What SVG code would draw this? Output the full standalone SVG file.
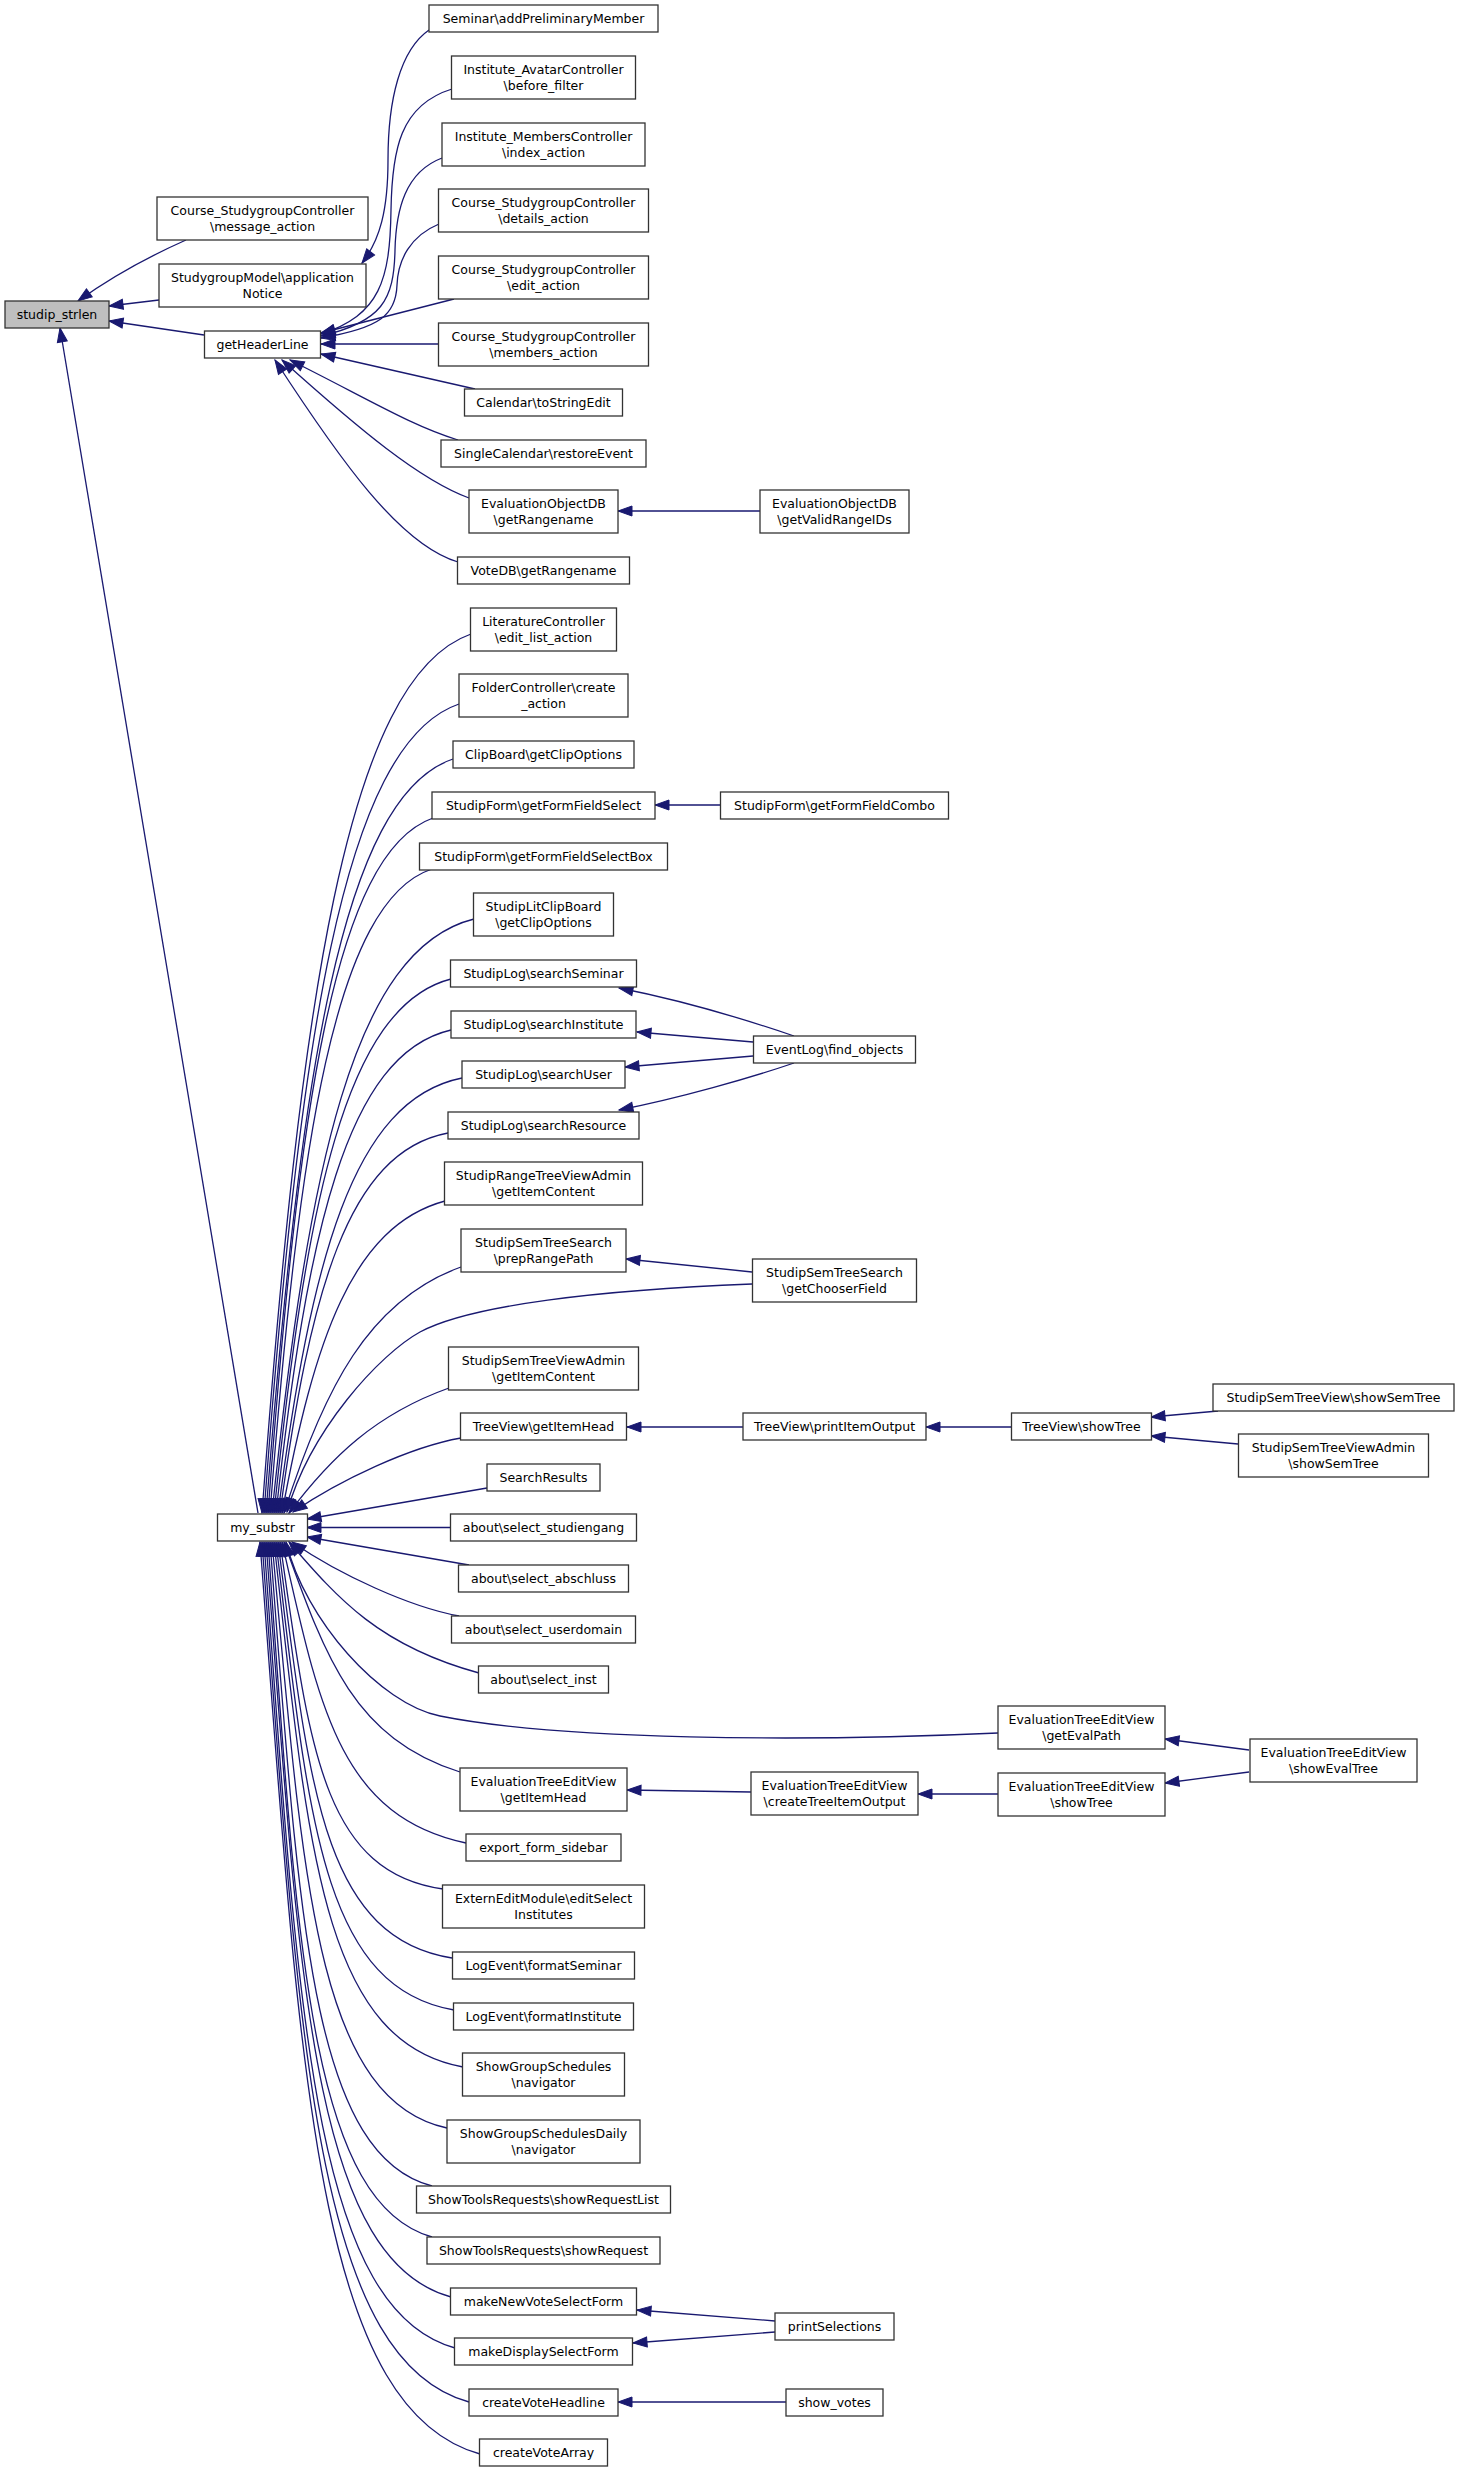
<svg xmlns="http://www.w3.org/2000/svg" width="1459" height="2472" viewBox="0 0 1459 2472">
<style>
.n rect{fill:#fff;stroke:#333;stroke-width:1.3}
.n rect.g{fill:#bfbfbf}
.n text{font-family:"DejaVu Sans",sans-serif;font-size:12.5px;text-anchor:middle;fill:#000}
.e path{fill:none;stroke:#191970;stroke-width:1.3;marker-end:url(#a)}
</style>
<defs>
<marker id="a" markerUnits="userSpaceOnUse" markerWidth="14" markerHeight="10" refX="14" refY="5" orient="auto" overflow="visible">
<path d="M0,0 L14,5 L0,10 z" fill="#191970" stroke="#191970" stroke-width="1"/>
</marker>
</defs>
<rect width="1459" height="2472" fill="#fff"/>
<g class="e" id="edges">
<path d="M186,240 C150,256 110,278 78,301"/>
<path d="M159,300 L109,306"/>
<path d="M204,335 L109,321"/>
<path d="M258,1513 L60,328"/>
<path d="M429,30 C400,50 388,100 388,160 C388,210 380,240 362,263"/>
<path d="M452,89 C400,105 392,150 391,210 C390,280 380,315 321,334"/>
<path d="M442,158 C405,172 396,210 395,250 C394,300 382,322 321,336"/>
<path d="M439,224 C410,236 398,260 397,285 C396,315 380,328 321,338"/>
<path d="M454,299 L321,333"/>
<path d="M439,344 L321,344"/>
<path d="M475,389 L321,354"/>
<path d="M458,440 C410,425 370,400 290,360"/>
<path d="M469,498 C420,480 360,430 282,360"/>
<path d="M458,562 C400,545 340,460 275,360"/>
<path d="M760,511 L618,511"/>
<path d="M720,805 L655,805"/>
<path d="M794,1036 C750,1021 680,1000 619,988"/>
<path d="M753,1042 L637,1032"/>
<path d="M753,1056 L625,1067"/>
<path d="M794,1063 C750,1078 680,1098 619,1110"/>
<path d="M752,1272 L626,1259"/>
<path d="M743,1427 L627,1427"/>
<path d="M1011,1427 L926,1427"/>
<path d="M1218,1411 L1151,1417"/>
<path d="M1238,1444 L1151,1436"/>
<path d="M1249,1750 L1165,1739"/>
<path d="M1249,1772 L1165,1783"/>
<path d="M998,1794 L918,1794"/>
<path d="M751,1792 L627,1790"/>
<path d="M775,2321 L637,2310"/>
<path d="M775,2332 L633,2343"/>
<path d="M786,2402 L618,2402"/>
<path d="M471,634 C346,678 300,1003 262,1513"/>
<path d="M459,704 C342,744 299,1044 264,1513"/>
<path d="M453,759 C341,797 300,1076 266,1513"/>
<path d="M433,818 C334,853 298,1110 268,1513"/>
<path d="M432,869 C335,901 299,1140 270,1513"/>
<path d="M474,919 C353,949 308,1168 272,1513"/>
<path d="M451,979 C345,1006 306,1203 274,1513"/>
<path d="M451,1030 C346,1054 307,1233 276,1513"/>
<path d="M462,1078 C352,1100 311,1261 278,1513"/>
<path d="M448,1133 C347,1152 310,1293 280,1513"/>
<path d="M445,1201 C352,1226 314,1340 282,1513"/>
<path d="M461,1267 C369,1300 324,1388 284,1513"/>
<path d="M752,1284 C600,1290 470,1305 420,1332 C380,1354 310,1430 287,1512"/>
<path d="M449,1388 C376,1414 331,1457 289,1513"/>
<path d="M461,1438 C410,1447 340,1480 293,1512"/>
<path d="M487,1488 L307,1519"/>
<path d="M451,1527.5 L307,1527.5"/>
<path d="M469,1565 L307,1537"/>
<path d="M459,1616 C410,1607 340,1575 292,1542"/>
<path d="M479,1673 C380,1646 339,1600 289,1542"/>
<path d="M998,1733 C800,1742 560,1740 440,1716 C380,1704 305,1620 286,1542"/>
<path d="M460,1772 C353,1738 325,1656 284,1542"/>
<path d="M466,1843 C339,1816 319,1706 282,1542"/>
<path d="M443,1889 C321,1872 309,1743 280,1542"/>
<path d="M452,1958 C321,1937 309,1783 278,1542"/>
<path d="M454,2010 C320,1987 308,1813 276,1542"/>
<path d="M463,2067 C321,2041 308,1846 274,1542"/>
<path d="M447,2128 C316,2099 303,1882 272,1542"/>
<path d="M432,2186 C310,2154 299,1915 270,1542"/>
<path d="M432,2237 C309,2202 297,1945 268,1542"/>
<path d="M451,2297 C312,2259 299,1980 266,1542"/>
<path d="M455,2348 C312,2308 298,2010 264,1542"/>
<path d="M469,2402 C314,2359 299,2041 262,1542"/>
<path d="M480,2454 C315,2408 300,2071 260,1542"/>
</g>
<g class="n" id="studip_strlen"><rect class="g" x="5" y="301" width="104" height="27"/><text x="57" y="319">studip_strlen</text></g>
<g class="n" id="message_action"><rect x="157" y="197" width="211" height="43"/><text x="262.5" y="215">Course_StudygroupController</text><text x="262.5" y="231">\message_action</text></g>
<g class="n" id="applicationNotice"><rect x="159" y="264" width="207" height="43"/><text x="262.5" y="282">StudygroupModel\application</text><text x="262.5" y="298">Notice</text></g>
<g class="n" id="getHeaderLine"><rect x="204.5" y="331" width="116" height="27"/><text x="262.5" y="349">getHeaderLine</text></g>
<g class="n" id="my_substr"><rect x="217.5" y="1514" width="90" height="27"/><text x="262.5" y="1532">my_substr</text></g>
<g class="n" id="addPreliminaryMember"><rect x="429" y="5" width="229" height="27"/><text x="543.5" y="23">Seminar\addPreliminaryMember</text></g>
<g class="n" id="before_filter"><rect x="451.5" y="56" width="184" height="43"/><text x="543.5" y="74">Institute_AvatarController</text><text x="543.5" y="90">\before_filter</text></g>
<g class="n" id="index_action"><rect x="442" y="123" width="203" height="43"/><text x="543.5" y="141">Institute_MembersController</text><text x="543.5" y="157">\index_action</text></g>
<g class="n" id="details_action"><rect x="438.5" y="189" width="210" height="43"/><text x="543.5" y="207">Course_StudygroupController</text><text x="543.5" y="223">\details_action</text></g>
<g class="n" id="edit_action"><rect x="438.5" y="256" width="210" height="43"/><text x="543.5" y="274">Course_StudygroupController</text><text x="543.5" y="290">\edit_action</text></g>
<g class="n" id="members_action"><rect x="438.5" y="323" width="210" height="43"/><text x="543.5" y="341">Course_StudygroupController</text><text x="543.5" y="357">\members_action</text></g>
<g class="n" id="toStringEdit"><rect x="464.5" y="389" width="158" height="27"/><text x="543.5" y="407">Calendar\toStringEdit</text></g>
<g class="n" id="restoreEvent"><rect x="441" y="440" width="205" height="27"/><text x="543.5" y="458">SingleCalendar\restoreEvent</text></g>
<g class="n" id="eodb_getRangename"><rect x="469" y="490" width="149" height="43"/><text x="543.5" y="508">EvaluationObjectDB</text><text x="543.5" y="524">\getRangename</text></g>
<g class="n" id="vote_getRangename"><rect x="457.5" y="557" width="172" height="27"/><text x="543.5" y="575">VoteDB\getRangename</text></g>
<g class="n" id="edit_list_action"><rect x="470.5" y="608" width="146" height="43"/><text x="543.5" y="626">LiteratureController</text><text x="543.5" y="642">\edit_list_action</text></g>
<g class="n" id="create_action"><rect x="459" y="674" width="169" height="43"/><text x="543.5" y="692">FolderController\create</text><text x="543.5" y="708">_action</text></g>
<g class="n" id="clip_getClipOptions"><rect x="453" y="741" width="181" height="27"/><text x="543.5" y="759">ClipBoard\getClipOptions</text></g>
<g class="n" id="getFormFieldSelect"><rect x="432" y="792" width="223" height="27"/><text x="543.5" y="810">StudipForm\getFormFieldSelect</text></g>
<g class="n" id="getFormFieldSelectBox"><rect x="419.5" y="843" width="248" height="27"/><text x="543.5" y="861">StudipForm\getFormFieldSelectBox</text></g>
<g class="n" id="lit_getClipOptions"><rect x="473.5" y="893" width="140" height="43"/><text x="543.5" y="911">StudipLitClipBoard</text><text x="543.5" y="927">\getClipOptions</text></g>
<g class="n" id="searchSeminar"><rect x="450.5" y="960" width="186" height="27"/><text x="543.5" y="978">StudipLog\searchSeminar</text></g>
<g class="n" id="searchInstitute"><rect x="451" y="1011" width="185" height="27"/><text x="543.5" y="1029">StudipLog\searchInstitute</text></g>
<g class="n" id="searchUser"><rect x="462" y="1061" width="163" height="27"/><text x="543.5" y="1079">StudipLog\searchUser</text></g>
<g class="n" id="searchResource"><rect x="448" y="1112" width="191" height="27"/><text x="543.5" y="1130">StudipLog\searchResource</text></g>
<g class="n" id="range_getItemContent"><rect x="444.5" y="1162" width="198" height="43"/><text x="543.5" y="1180">StudipRangeTreeViewAdmin</text><text x="543.5" y="1196">\getItemContent</text></g>
<g class="n" id="prepRangePath"><rect x="461" y="1229" width="165" height="43"/><text x="543.5" y="1247">StudipSemTreeSearch</text><text x="543.5" y="1263">\prepRangePath</text></g>
<g class="n" id="sem_getItemContent"><rect x="448.5" y="1347" width="190" height="43"/><text x="543.5" y="1365">StudipSemTreeViewAdmin</text><text x="543.5" y="1381">\getItemContent</text></g>
<g class="n" id="tv_getItemHead"><rect x="460.5" y="1413" width="166" height="27"/><text x="543.5" y="1431">TreeView\getItemHead</text></g>
<g class="n" id="SearchResults"><rect x="487" y="1464" width="113" height="27"/><text x="543.5" y="1482">SearchResults</text></g>
<g class="n" id="select_studiengang"><rect x="450.5" y="1514" width="186" height="27"/><text x="543.5" y="1532">about\select_studiengang</text></g>
<g class="n" id="select_abschluss"><rect x="458.5" y="1565" width="170" height="27"/><text x="543.5" y="1583">about\select_abschluss</text></g>
<g class="n" id="select_userdomain"><rect x="451.5" y="1616" width="184" height="27"/><text x="543.5" y="1634">about\select_userdomain</text></g>
<g class="n" id="select_inst"><rect x="478.5" y="1666" width="130" height="27"/><text x="543.5" y="1684">about\select_inst</text></g>
<g class="n" id="ev_getItemHead"><rect x="460" y="1768" width="167" height="43"/><text x="543.5" y="1786">EvaluationTreeEditView</text><text x="543.5" y="1802">\getItemHead</text></g>
<g class="n" id="export_form_sidebar"><rect x="466" y="1834" width="155" height="27"/><text x="543.5" y="1852">export_form_sidebar</text></g>
<g class="n" id="editSelectInstitutes"><rect x="442.5" y="1885" width="202" height="43"/><text x="543.5" y="1903">ExternEditModule\editSelect</text><text x="543.5" y="1919">Institutes</text></g>
<g class="n" id="formatSeminar"><rect x="452.5" y="1952" width="182" height="27"/><text x="543.5" y="1970">LogEvent\formatSeminar</text></g>
<g class="n" id="formatInstitute"><rect x="453.5" y="2003" width="180" height="27"/><text x="543.5" y="2021">LogEvent\formatInstitute</text></g>
<g class="n" id="gs_navigator"><rect x="462.5" y="2053" width="162" height="43"/><text x="543.5" y="2071">ShowGroupSchedules</text><text x="543.5" y="2087">\navigator</text></g>
<g class="n" id="gsd_navigator"><rect x="447" y="2120" width="193" height="43"/><text x="543.5" y="2138">ShowGroupSchedulesDaily</text><text x="543.5" y="2154">\navigator</text></g>
<g class="n" id="showRequestList"><rect x="416.5" y="2186" width="254" height="27"/><text x="543.5" y="2204">ShowToolsRequests\showRequestList</text></g>
<g class="n" id="showRequest"><rect x="427" y="2237" width="233" height="27"/><text x="543.5" y="2255">ShowToolsRequests\showRequest</text></g>
<g class="n" id="makeNewVoteSelectForm"><rect x="450.5" y="2288" width="186" height="27"/><text x="543.5" y="2306">makeNewVoteSelectForm</text></g>
<g class="n" id="makeDisplaySelectForm"><rect x="454.5" y="2338" width="178" height="27"/><text x="543.5" y="2356">makeDisplaySelectForm</text></g>
<g class="n" id="createVoteHeadline"><rect x="469" y="2389" width="149" height="27"/><text x="543.5" y="2407">createVoteHeadline</text></g>
<g class="n" id="createVoteArray"><rect x="479.5" y="2439" width="128" height="27"/><text x="543.5" y="2457">createVoteArray</text></g>
<g class="n" id="getValidRangeIDs"><rect x="760" y="490" width="149" height="43"/><text x="834.5" y="508">EvaluationObjectDB</text><text x="834.5" y="524">\getValidRangeIDs</text></g>
<g class="n" id="getFormFieldCombo"><rect x="720.5" y="792" width="228" height="27"/><text x="834.5" y="810">StudipForm\getFormFieldCombo</text></g>
<g class="n" id="find_objects"><rect x="753.5" y="1036" width="162" height="27"/><text x="834.5" y="1054">EventLog\find_objects</text></g>
<g class="n" id="getChooserField"><rect x="752.5" y="1259" width="164" height="43"/><text x="834.5" y="1277">StudipSemTreeSearch</text><text x="834.5" y="1293">\getChooserField</text></g>
<g class="n" id="printItemOutput"><rect x="743" y="1413" width="183" height="27"/><text x="834.5" y="1431">TreeView\printItemOutput</text></g>
<g class="n" id="createTreeItemOutput"><rect x="751" y="1772" width="167" height="43"/><text x="834.5" y="1790">EvaluationTreeEditView</text><text x="834.5" y="1806">\createTreeItemOutput</text></g>
<g class="n" id="printSelections"><rect x="775" y="2313" width="119" height="27"/><text x="834.5" y="2331">printSelections</text></g>
<g class="n" id="show_votes"><rect x="786" y="2389" width="97" height="27"/><text x="834.5" y="2407">show_votes</text></g>
<g class="n" id="tv_showTree"><rect x="1011.5" y="1413" width="140" height="27"/><text x="1081.5" y="1431">TreeView\showTree</text></g>
<g class="n" id="getEvalPath"><rect x="998" y="1706" width="167" height="43"/><text x="1081.5" y="1724">EvaluationTreeEditView</text><text x="1081.5" y="1740">\getEvalPath</text></g>
<g class="n" id="ev_showTree"><rect x="998" y="1773" width="167" height="43"/><text x="1081.5" y="1791">EvaluationTreeEditView</text><text x="1081.5" y="1807">\showTree</text></g>
<g class="n" id="showSemTree"><rect x="1213" y="1384" width="241" height="27"/><text x="1333.5" y="1402">StudipSemTreeView\showSemTree</text></g>
<g class="n" id="admin_showSemTree"><rect x="1238.5" y="1434" width="190" height="43"/><text x="1333.5" y="1452">StudipSemTreeViewAdmin</text><text x="1333.5" y="1468">\showSemTree</text></g>
<g class="n" id="showEvalTree"><rect x="1250" y="1739" width="167" height="43"/><text x="1333.5" y="1757">EvaluationTreeEditView</text><text x="1333.5" y="1773">\showEvalTree</text></g>
</svg>
